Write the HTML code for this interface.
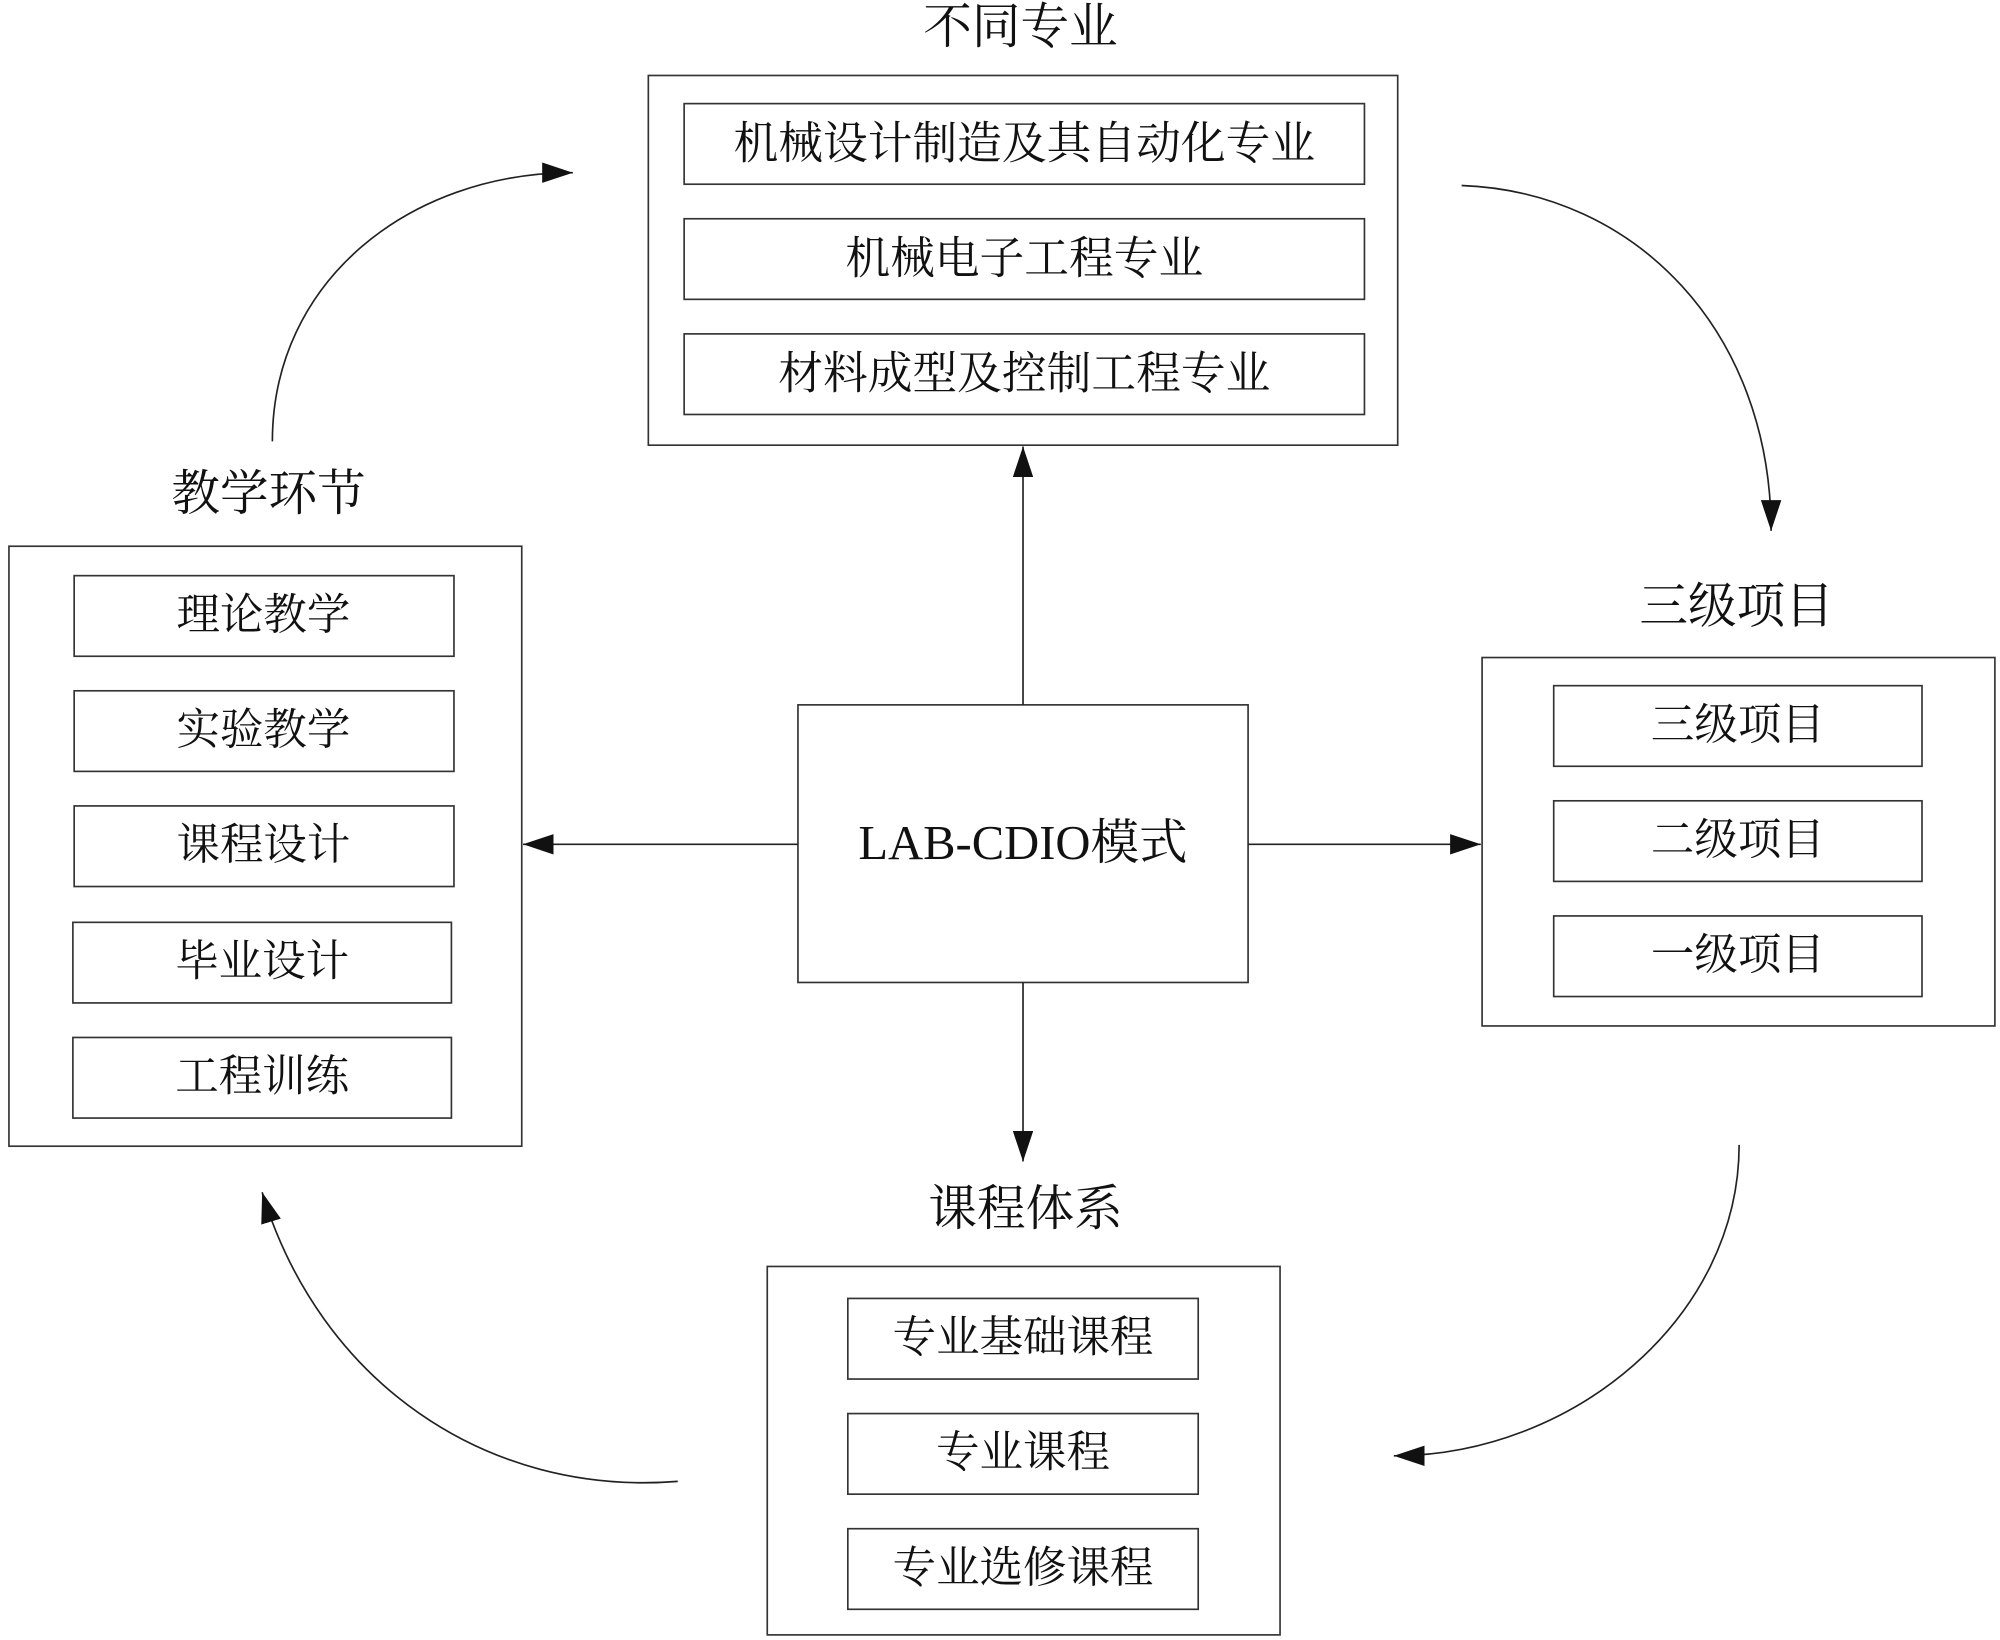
<!DOCTYPE html>
<html><head><meta charset="utf-8"><style>
html,body{margin:0;padding:0;background:#fff;}
svg{display:block;}
text{font-family:"Liberation Serif","Noto Serif CJK SC",serif;fill:#111;text-anchor:middle;dominant-baseline:central;}
rect{fill:#fff;stroke:#333;stroke-width:1.3;}
path,line{stroke:#222;stroke-width:1.3;fill:none;}
</style></head><body>
<svg width="2000" height="1640" viewBox="0 0 1564 1282" preserveAspectRatio="none" xmlns="http://www.w3.org/2000/svg">
<defs>
<marker id="a" markerUnits="userSpaceOnUse" markerWidth="26" markerHeight="18" refX="24" refY="8" orient="auto">
<path d="M0,0 L24,8 L0,16 Z" style="fill:#111;stroke:none"/>
</marker>
</defs>
<!-- top -->
<text x="798" y="21" font-size="38">不同专业</text>
<rect x="507" y="59" width="586" height="289"/>
<rect x="535" y="81" width="532" height="63"/><text x="801" y="112" font-size="35">机械设计制造及其自动化专业</text>
<rect x="535" y="171" width="532" height="63"/><text x="801" y="202" font-size="35">机械电子工程专业</text>
<rect x="535" y="261" width="532" height="63"/><text x="801" y="292" font-size="35">材料成型及控制工程专业</text>
<!-- left -->
<text x="210" y="386" font-size="38">教学环节</text>
<rect x="7" y="427" width="401" height="469"/>
<rect x="58" y="450" width="297" height="63"/><text x="206" y="481" font-size="34">理论教学</text>
<rect x="58" y="540" width="297" height="63"/><text x="206" y="571" font-size="34">实验教学</text>
<rect x="58" y="630" width="297" height="63"/><text x="206" y="661" font-size="34">课程设计</text>
<rect x="57" y="721" width="296" height="63"/><text x="205" y="752" font-size="34">毕业设计</text>
<rect x="57" y="811" width="296" height="63"/><text x="205" y="842" font-size="34">工程训练</text>
<!-- center -->
<rect x="624" y="551" width="352" height="217"/>
<text x="800" y="659" font-size="38">LAB-CDIO模式</text>
<!-- right -->
<text x="1358" y="474" font-size="38">三级项目</text>
<rect x="1159" y="514" width="401" height="288"/>
<rect x="1215" y="536" width="288" height="63"/><text x="1359" y="567" font-size="34">三级项目</text>
<rect x="1215" y="626" width="288" height="63"/><text x="1359" y="657" font-size="34">二级项目</text>
<rect x="1215" y="716" width="288" height="63"/><text x="1359" y="747" font-size="34">一级项目</text>
<!-- bottom -->
<text x="802" y="945" font-size="38">课程体系</text>
<rect x="600" y="990" width="401" height="288"/>
<rect x="663" y="1015" width="274" height="63"/><text x="800" y="1046" font-size="34">专业基础课程</text>
<rect x="663" y="1105" width="274" height="63"/><text x="800" y="1136" font-size="34">专业课程</text>
<rect x="663" y="1195" width="274" height="63"/><text x="800" y="1226" font-size="34">专业选修课程</text>
<!-- straight arrows -->
<line x1="800" y1="551" x2="800" y2="349" marker-end="url(#a)"/>
<line x1="624" y1="660" x2="409" y2="660" marker-end="url(#a)"/>
<line x1="976" y1="660" x2="1158" y2="660" marker-end="url(#a)"/>
<line x1="800" y1="768" x2="800" y2="908" marker-end="url(#a)"/>
<!-- curves -->
<path d="M213,345 C213,220 320,135 448,135" marker-end="url(#a)"/>
<path d="M1143,145 C1280,150 1385,260 1385,415" marker-end="url(#a)"/>
<path d="M1360,895 C1360,1030 1230,1138 1090,1138" marker-end="url(#a)"/>
<path d="M530,1158 C380,1170 250,1080 205,932" marker-end="url(#a)"/>
</svg>
</body></html>
